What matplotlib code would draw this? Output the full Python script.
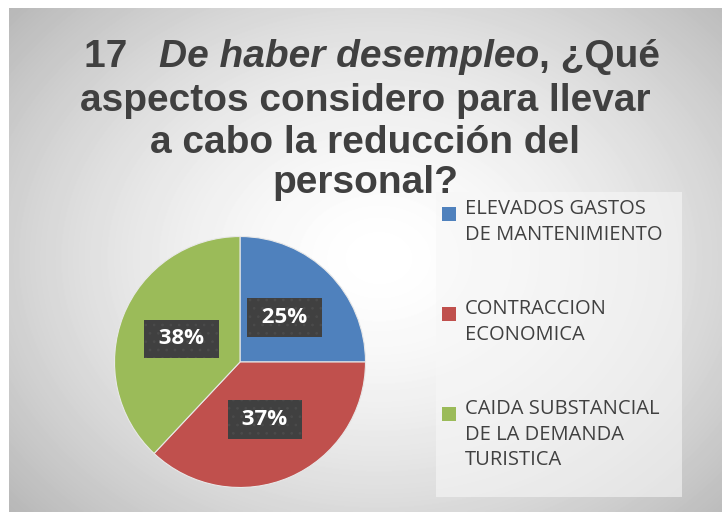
import matplotlib
matplotlib.use("Agg")
import matplotlib.pyplot as plt
import numpy as np

labels = ["ELEVADOS GASTOS\nDE MANTENIMIENTO", "CONTRACCION\nECONOMICA",
          "CAIDA SUBSTANCIAL\nDE LA DEMANDA\nTURISTICA"]
values = [25, 37, 38]
colors = ["#4f81bd", "#c0504d", "#9bbb59"]

fig = plt.figure(figsize=(7.22, 5.12), dpi=100)
W, H = 722, 512

# background gradient
bg = fig.add_axes([9 / W, 0, 1 - 9 / W, 1 - 8 / H])
yy, xx = np.mgrid[0:504, 0:713]
r = np.sqrt(((xx - 370) / 420.0) ** 2 + ((yy - 250) / 330.0) ** 2)
shade = np.clip(1.0 - 0.22 * r ** 1.6, 0, 1)
bg.imshow(shade, cmap="gray", vmin=0, vmax=1, aspect="auto", interpolation="bilinear")
bg.axis("off")

# legend background
leg_bg = fig.add_axes([436 / W, (512 - 497) / H, (682 - 436) / W, (497 - 192) / H])
leg_bg.set_facecolor((0.97, 0.97, 0.97, 0.6))
leg_bg.set_xticks([]); leg_bg.set_yticks([])
for s in leg_bg.spines.values():
    s.set_visible(False)

plt.rcParams["hatch.linewidth"] = 0.7

ax = fig.add_axes([112 / W, (512 - 490) / H, 256 / W, 256 / H])
wedges, texts, autotexts = ax.pie(values, colors=colors, startangle=90, counterclock=False,
                                  autopct=lambda p: " %1.0f%% " % p, pctdistance=0.5,
                                  wedgeprops=dict(linewidth=0.8, edgecolor="#e8e8e8"))
ax.set_xlim(-1.02, 1.02); ax.set_ylim(-1.02, 1.02)
for t in autotexts:
    t.set_color("white"); t.set_fontsize(16); t.set_fontweight("bold")
    t.set_fontfamily("Open Sans")
    t.set_bbox(dict(boxstyle="square,pad=0.4", facecolor="#404040", edgecolor="#4b4b4b",
                    linewidth=0, hatch=".."))

# title
tc = "#404040"
fs = 28
fam = "Liberation Sans"
fig.canvas.draw()
rend = fig.canvas.get_renderer()
parts = [("17   ", "normal"), ("De haber desempleo", "italic"), (", ¿Qué", "normal")]
objs = []
for s, st in parts:
    objs.append(fig.text(0, 0, s, fontsize=fs, fontweight="bold", style=st, family=fam, color=tc))
widths = [o.get_window_extent(rend).width for o in objs]
x = 372 - sum(widths) / 2
for o, w in zip(objs, widths):
    o.set_position((x / W, 1 - 57 / H)); o.set_va("center")
    x += w
for txt, yc in [("aspectos considero para llevar", 101), ("a cabo la reducción del", 143), ("personal?", 183)]:
    fig.text(365 / W, 1 - yc / H, txt, fontsize=fs, fontweight="bold", family=fam, color=tc,
             ha="center", va="center")

# legend
legy = [214, 314, 414]
for lab, c, y in zip(labels, colors, legy):
    fig.patches.append(plt.Rectangle((442 / W, 1 - (y + 7) / H), 14 / W, 14 / H,
                                     transform=fig.transFigure, facecolor=c, edgecolor="none"))
    fig.text(465 / W, 1 - (y - 15) / H, lab, fontsize=14.5, family="Open Sans", color=tc,
             va="top", linespacing=1.38)

fig.savefig("out.png", dpi=100)
